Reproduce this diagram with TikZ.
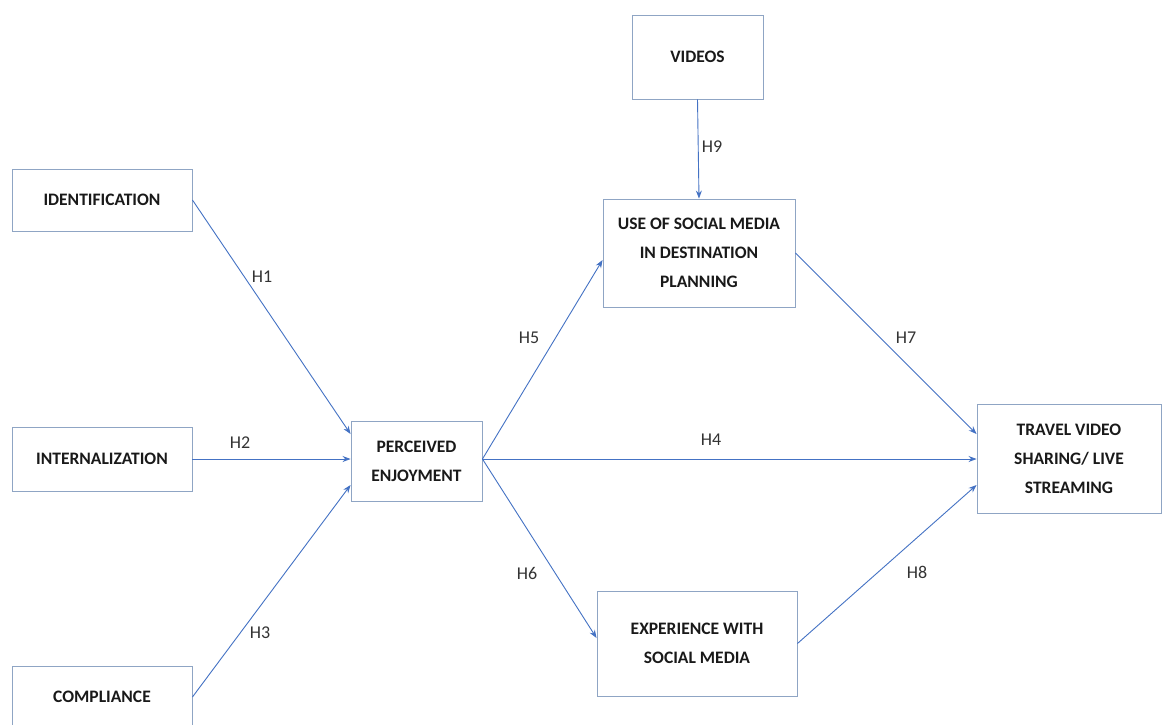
\documentclass[tikz,border=0pt]{standalone}
\usepackage{fontspec}
\setmainfont{Carlito}
\usetikzlibrary{arrows.meta}
\definecolor{linkblue}{RGB}{68,114,196}
\definecolor{boxline}{RGB}{143,165,196}
\begin{document}
\begin{tikzpicture}[x=1pt,y=-1pt,
  box/.style={draw=boxline,line width=0.9pt,fill=white,rectangle,inner sep=0pt,
    align=center,font=\bfseries\fontsize{17.5}{29}\selectfont,text=black!90},
  link/.style={draw=linkblue,line width=0.9pt,-{Stealth[length=8pt,width=6pt]}},
  hlab/.style={font=\fontsize{18}{20}\selectfont,text=black!80,inner sep=0pt}]
\useasboundingbox (0,0) rectangle (1162,724);
\clip (0,0) rectangle (1162,724);
\fill[white] (0,0) rectangle (1162,724);
% boxes
\node[box,minimum width=131pt,minimum height=84pt] (vid) at (697.5,57) {VIDEOS};
\node[box,minimum width=180pt,minimum height=62pt] (ide) at (102,200) {IDENTIFICATION};
\node[box,minimum width=180pt,minimum height=64pt] (int) at (102,459) {INTERNALIZATION};
\node[box,minimum width=180pt,minimum height=62pt] (com) at (102,697) {COMPLIANCE};
\node[box,minimum width=131pt,minimum height=80pt] (pe) at (416.5,461) {PERCEIVED\\ENJOYMENT};
\node[box,minimum width=192pt,minimum height=108pt] (use) at (699,253) {USE OF SOCIAL MEDIA\\IN DESTINATION\\PLANNING};
\node[box,minimum width=200pt,minimum height=105pt] (exp) at (697,643.5) {EXPERIENCE WITH\\SOCIAL MEDIA};
\node[box,minimum width=184pt,minimum height=109pt] (tra) at (1069,458.5) {TRAVEL VIDEO\\SHARING/ LIVE\\STREAMING};
% connectors
\draw[link] (ide.east) -- ([yshift=27pt]pe.west);
\draw[link] (int.east) -- (int.east -| pe.west);
\draw[link] (com.east) -- ([yshift=-24pt]pe.west);
\draw[link] ([yshift=2pt]pe.east) -- ([yshift=2pt]pe.east -| tra.west);
\draw[link] ([yshift=2pt]pe.east) -- ([yshift=-7pt]use.west);
\draw[link] ([yshift=2pt]pe.east) -- ([yshift=5.5pt]exp.west);
\draw[link] (use.east) -- ([yshift=24.5pt]tra.west);
\draw[link] (exp.east) -- ([yshift=-26.5pt]tra.west);
\draw[link] (vid.south) -- (use.north);
% labels
\node[hlab] (h1) at (262,277) {H1};
\node[hlab] (h2) at (240,443) {H2};
\node[hlab] (h3) at (260,633) {H3};
\node[hlab] (h4) at (711,440) {H4};
\node[hlab] (h5) at (529,338) {H5};
\node[hlab] (h6) at (527,573) {H6};
\node[hlab] (h7) at (906,338) {H7};
\node[hlab] (h8) at (917,572) {H8};
\node[hlab] (h9) at (712,147) {H9};
\end{tikzpicture}
\end{document}
